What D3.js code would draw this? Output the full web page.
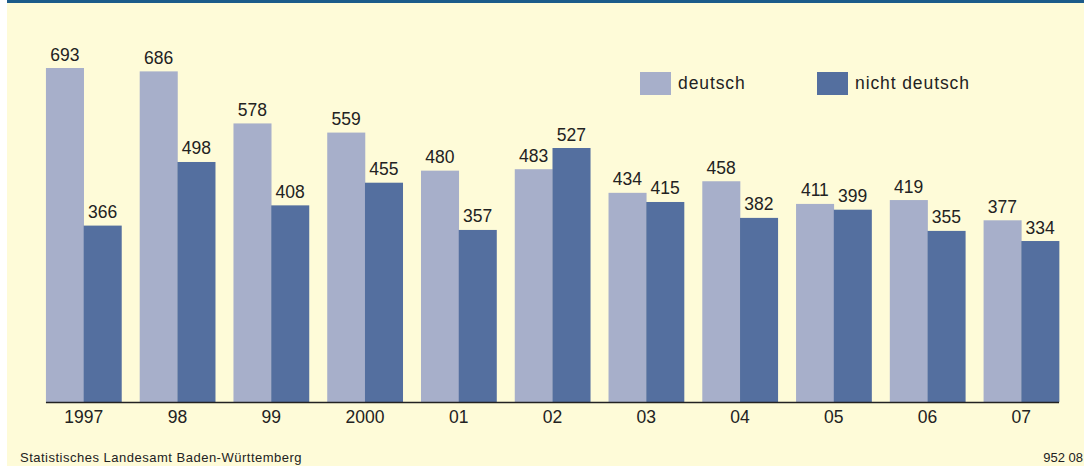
<!DOCTYPE html>
<html>
<head>
<meta charset="utf-8">
<script src="https://cdn.jsdelivr.net/npm/d3@7"></script>
<style>
  body { margin: 0; background: #fff; }
  svg { display: block; font-family: "Liberation Sans", Arial, sans-serif; }
</style>
</head>
<body>
<div id="chart"></div>
<script>
const years = ["1997", "98", "99", "2000", "01", "02", "03", "04", "05", "06", "07"]
const deutsch = [693, 686, 578, 559, 480, 483, 434, 458, 411, 419, 377]
const nichtDeutsch = [366, 498, 408, 455, 357, 527, 415, 382, 399, 355, 334]
const seriesNames = ["deutsch", "nicht deutsch"]
const colors = ["#a7afca", "#546f9f"]

const width = 1084, height = 466
const baseY = 402

const svg = d3.select("#chart").append("svg")
    .attr("width", width)
    .attr("height", height)

// background + top rule
svg.append("rect").attr("x", 7).attr("y", 0).attr("width", width - 7).attr("height", height).attr("fill", "#fefbd8")
svg.append("rect").attr("x", 7).attr("y", 0).attr("width", width - 7).attr("height", 3).attr("fill", "#1c5b8a")

const x0 = d3.scaleBand().domain(years).range([36.8, 1068.2]).paddingInner(0.195).paddingOuter(0.0975)
const x1 = d3.scaleBand().domain(seriesNames).range([0, x0.bandwidth()])
const y = d3.scaleLinear().domain([0, 693]).range([baseY, 68])

const rows = years.map((yr, i) => ({year: yr, values: [deutsch[i], nichtDeutsch[i]]}))

const groups = svg.append("g").selectAll("g")
    .data(rows)
    .join("g")
    .attr("transform", d => `translate(${x0(d.year)},0)`)

groups.selectAll("rect")
    .data(d => d.values.map((v, j) => ({key: seriesNames[j], v, j})))
    .join("rect")
    .attr("x", d => x1(d.key))
    .attr("width", x1.bandwidth() + 0.3)
    .attr("y", d => y(d.v))
    .attr("height", d => baseY - y(d.v))
    .attr("fill", d => colors[d.j])

groups.selectAll("text")
    .data(d => d.values.map((v, j) => ({key: seriesNames[j], v, j})))
    .join("text")
    .attr("x", d => x1(d.key) + x1.bandwidth() / 2)
    .attr("y", d => y(d.v) - 7.5)
    .attr("text-anchor", "middle")
    .attr("font-size", 17.5)
    .attr("fill", "#222")
    .text(d => d.v)

// x axis
const xAxis = d3.axisBottom(x0).tickSize(0).tickPadding(9)
svg.append("g")
    .attr("transform", `translate(0,${baseY})`)
    .call(xAxis)
    .call(g => g.select(".domain").remove())
    .call(g => g.selectAll("text").attr("font-size", 17.5).attr("fill", "#222").attr("font-family", null))

svg.append("line")
    .attr("x1", x0(years[0]))
    .attr("x2", x0(years[years.length - 1]) + x0.bandwidth())
    .attr("y1", baseY + 0.5)
    .attr("y2", baseY + 0.5)
    .attr("stroke", "#222")
    .attr("stroke-width", 1.3)

// legend
const legendX = [640, 817]
const legend = svg.append("g").selectAll("g")
    .data(seriesNames)
    .join("g")
    .attr("transform", (d, i) => `translate(${legendX[i]},72)`)
legend.append("rect").attr("width", 31).attr("height", 23).attr("fill", (d, i) => colors[i])
legend.append("text")
    .attr("x", 38)
    .attr("y", 17)
    .attr("font-size", 17.5)
    .attr("letter-spacing", 0.9)
    .attr("fill", "#222")
    .text(d => d)

// footer
svg.append("text").attr("x", 20).attr("y", 462).attr("font-size", 13).attr("letter-spacing", 0.5).attr("fill", "#222")
    .text("Statistisches Landesamt Baden-Württemberg")
svg.append("text").attr("x", 1083).attr("y", 462).attr("font-size", 13).attr("fill", "#222")
    .attr("text-anchor", "end")
    .text("952 08")
</script>
</body>
</html>
